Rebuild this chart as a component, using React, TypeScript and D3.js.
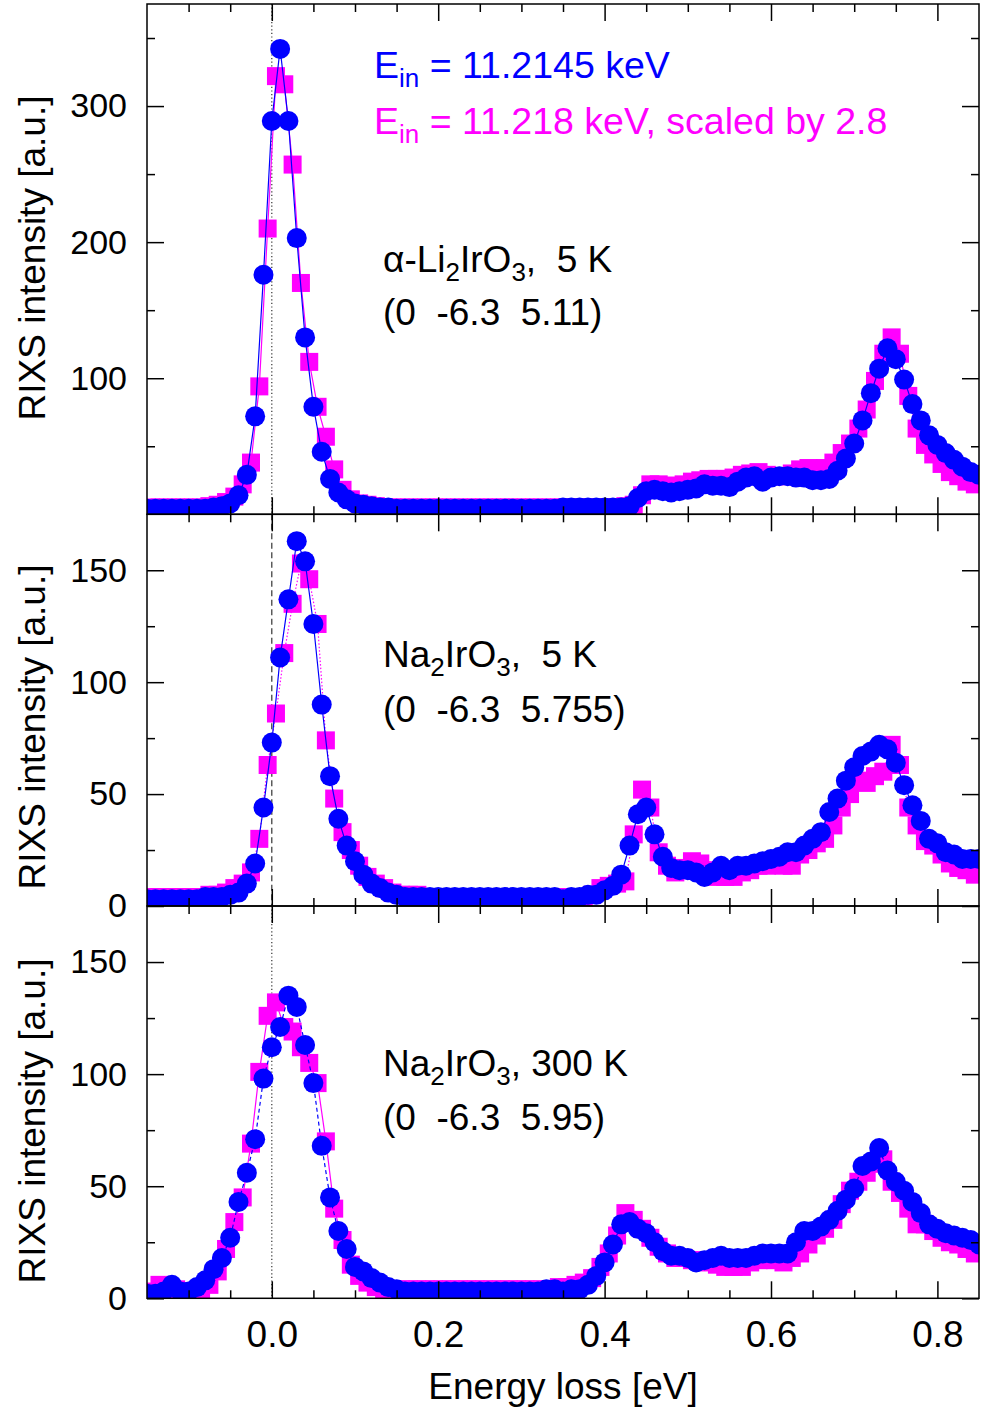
import React, { useRef, useEffect } from "react";
import * as d3 from "d3";

// energy loss grids (eV) for the two incident energies
const lossBlue = [
  -0.15, -0.14, -0.13, -0.12, -0.11, -0.10, -0.09, -0.08, -0.07, -0.06,
  -0.05, -0.04, -0.03, -0.02, -0.01, 0.00, 0.01, 0.02, 0.03, 0.04,
  0.05, 0.06, 0.07, 0.08, 0.09, 0.10, 0.11, 0.12, 0.13, 0.14,
  0.15, 0.16, 0.17, 0.18, 0.19, 0.20, 0.21, 0.22, 0.23, 0.24,
  0.25, 0.26, 0.27, 0.28, 0.29, 0.30, 0.31, 0.32, 0.33, 0.34,
  0.35, 0.36, 0.37, 0.38, 0.39, 0.40, 0.41, 0.42, 0.43, 0.44,
  0.45, 0.46, 0.47, 0.48, 0.49, 0.50, 0.51, 0.52, 0.53, 0.54,
  0.55, 0.56, 0.57, 0.58, 0.59, 0.60, 0.61, 0.62, 0.63, 0.64,
  0.65, 0.66, 0.67, 0.68, 0.69, 0.70, 0.71, 0.72, 0.73, 0.74,
  0.75, 0.76, 0.77, 0.78, 0.79, 0.80, 0.81, 0.82, 0.83, 0.84,
  0.85,
];
const lossPink = [
  -0.145, -0.135, -0.125, -0.115, -0.105, -0.095, -0.085, -0.075, -0.065, -0.055,
  -0.045, -0.035, -0.025, -0.015, -0.005, 0.005, 0.015, 0.025, 0.035, 0.045,
  0.055, 0.065, 0.075, 0.085, 0.095, 0.105, 0.115, 0.125, 0.135, 0.145,
  0.155, 0.165, 0.175, 0.185, 0.195, 0.205, 0.215, 0.225, 0.235, 0.245,
  0.255, 0.265, 0.275, 0.285, 0.295, 0.305, 0.315, 0.325, 0.335, 0.345,
  0.355, 0.365, 0.375, 0.385, 0.395, 0.405, 0.415, 0.425, 0.435, 0.445,
  0.455, 0.465, 0.475, 0.485, 0.495, 0.505, 0.515, 0.525, 0.535, 0.545,
  0.555, 0.565, 0.575, 0.585, 0.595, 0.605, 0.615, 0.625, 0.635, 0.645,
  0.655, 0.665, 0.675, 0.685, 0.695, 0.705, 0.715, 0.725, 0.735, 0.745,
  0.755, 0.765, 0.775, 0.785, 0.795, 0.805, 0.815, 0.825, 0.835, 0.845,
];

// alpha-Li2IrO3, 5 K
const liBlue = [
  4, 4, 4, 4, 4, 4, 4, 4, 5, 6,
  8, 14, 29, 72, 176, 289, 342, 289, 203, 130,
  79, 46, 26, 16, 11, 8, 7, 6, 5, 5,
  4, 4, 4, 4, 4, 4, 4, 4, 4, 4,
  4, 4, 4, 4, 4, 4, 4, 4, 4, 4,
  5, 5, 5, 5, 5, 5, 5, 5, 6, 12,
  17, 18, 17, 16, 17, 18, 19, 22, 21, 21,
  20, 24, 27, 28, 24, 27, 28, 28, 27, 27,
  25, 25, 26, 32, 41, 52, 69, 89, 107, 122,
  114, 99, 81, 69, 58, 51, 45, 40, 35, 31,
  29,
];
const liPink = [
  5, 5, 5, 5, 5, 5, 5, 6, 7, 9,
  13, 22, 38, 94, 210, 322, 316, 257, 170, 112,
  79, 57, 33, 18, 11, 8, 7, 6, 5, 5,
  5, 5, 5, 5, 5, 5, 5, 5, 5, 5,
  5, 5, 5, 5, 5, 5, 5, 5, 5, 5,
  5, 5, 5, 5, 5, 5, 5, 6, 7, 14,
  22, 22, 21, 21, 22, 24, 25, 26, 26, 26,
  27, 29, 30, 31, 29, 28, 28, 30, 33, 34,
  33, 34, 38, 45, 52, 63, 77, 98, 118, 130,
  118, 87, 63, 51, 44, 37, 31, 28, 24, 22,
];

// Na2IrO3, 5 K
const naBlue5 = [
  3, 3, 3, 3, 3, 3, 3, 4, 4, 4,
  5, 6, 10, 19, 44, 73, 111, 137, 163, 154,
  126, 90, 58, 39, 27, 20, 14, 10, 8, 6,
  5, 4, 4, 4, 4, 4, 4, 4, 4, 4,
  4, 4, 4, 4, 4, 4, 4, 4, 4, 4,
  3, 4, 4, 5, 5, 7, 9, 14, 27, 41,
  44, 32, 22, 17, 16, 16, 15, 13, 15, 18,
  16, 18, 18, 19, 20, 21, 22, 24, 24, 27,
  30, 33, 42, 48, 56, 62, 67, 69, 72, 70,
  64, 54, 45, 38, 30, 28, 24, 23, 21, 21,
  21,
];
const naPink5 = [
  4, 4, 4, 4, 4, 4, 4, 5, 5, 6,
  8, 10, 15, 30, 63, 86, 113, 135, 153, 146,
  126, 74, 48, 33, 25, 18, 13, 10, 8, 6,
  5, 5, 5, 4, 4, 4, 4, 4, 4, 4,
  4, 4, 4, 4, 4, 4, 4, 4, 4, 4,
  4, 4, 4, 5, 8, 9, 10, 11, 32, 52,
  44, 24, 18, 15, 17, 20, 19, 16, 13, 13,
  13, 15, 16, 18, 18, 19, 18, 18, 23, 25,
  28, 30, 36, 44, 50, 56, 55, 58, 60, 72,
  63, 44, 36, 29, 27, 23, 19, 17, 16, 14,
];

// Na2IrO3, 300 K
const naBlue300 = [
  2, 2, 3, 6, 3, 3, 5, 8, 13, 18,
  27, 43, 56, 71, 98, 112, 121, 135, 130, 113,
  96, 68, 45, 30, 22, 14, 12, 9, 7, 5,
  4, 3, 3, 3, 3, 3, 3, 3, 3, 3,
  3, 3, 3, 3, 3, 3, 3, 3, 4, 4,
  3, 4, 4, 6, 10, 16, 24, 33, 34, 31,
  29, 25, 21, 19, 19, 18, 16, 17, 18, 19,
  18, 18, 18, 19, 20, 20, 20, 20, 25, 30,
  30, 32, 35, 39, 44, 49, 59, 61, 67, 57,
  52, 48, 43, 38, 33, 31, 29, 28, 27, 26,
  24,
];
const naPink300 = [
  3, 6, 5, 4, 3, 3, 3, 6, 12, 22,
  34, 45, 69, 101, 126, 132, 121, 119, 112, 105,
  96, 70, 40, 26, 15, 10, 7, 5, 4, 4,
  4, 4, 4, 4, 4, 4, 4, 4, 4, 4,
  4, 4, 4, 4, 4, 4, 4, 4, 4, 5,
  5, 6, 7, 9, 14, 20, 28, 38, 35, 31,
  27, 23, 20, 18, 18, 17, 17, 16, 15, 14,
  14, 14, 16, 17, 18, 17, 16, 18, 20, 24,
  28, 31, 35, 42, 48, 52, 56, 60, 62, 52,
  47, 40, 33, 33, 30, 27, 25, 24, 22, 20,
];

const xTicksMajor = [0.0, 0.2, 0.4, 0.6, 0.8];
const xTicksMinor = [-0.1, -0.05, 0.05, 0.1, 0.15, 0.25, 0.3, 0.35, 0.45, 0.5, 0.55, 0.65, 0.7, 0.75];
const yTicksLi = [100, 200, 300];
const yMinorLi = [50, 150, 250, 350];
const yTicksNa = [0, 50, 100, 150];
const yMinorNa = [25, 75, 125];

const FONT = "'Liberation Sans', Arial, Helvetica, sans-serif";
const BLUE = "#0000ff";
const PINK = "#ff00ff";
const LEFT = 147;
const RIGHT = 979;

const panels = [
  {
    blue: liBlue, pink: liPink, yMax: 375, y0: 4, y1: 514.3,
    major: yTicksLi, minor: yMinorLi, zeroDash: "1.2,2.4",
    blueDash: null, pinkDash: null, titleY: 258,
    name: [["α-Li"], ["2", true], ["IrO"], ["3", true], [",  5 K"]],
    nameY: 272, hkl: "(0  -6.3  5.11)", hklY: 325,
  },
  {
    blue: naBlue5, pink: naPink5, yMax: 175, y0: 514.3, y1: 906,
    major: yTicksNa, minor: yMinorNa, zeroDash: "6,3.5",
    blueDash: null, pinkDash: "1.5,2", titleY: 727,
    name: [["Na"], ["2", true], ["IrO"], ["3", true], [",  5 K"]],
    nameY: 667, hkl: "(0  -6.3  5.755)", hklY: 722,
  },
  {
    blue: naBlue300, pink: naPink300, yMax: 175, y0: 906, y1: 1298.3,
    major: yTicksNa, minor: yMinorNa, zeroDash: "1.2,2.4",
    blueDash: "4,3", pinkDash: null, titleY: 1121,
    name: [["Na"], ["2", true], ["IrO"], ["3", true], [", 300 K"]],
    nameY: 1076, hkl: "(0  -6.3  5.95)", hklY: 1130,
  },
];

function richText(g, x, y, parts, color, size, subSize, shift) {
  const t = g.append("text")
    .attr("x", x).attr("y", y)
    .attr("fill", color)
    .attr("font-size", size)
    .attr("font-family", FONT)
    .style("white-space", "pre");
  let low = false;
  parts.forEach(([s, sub]) => {
    const dy = sub ? (low ? 0 : shift) : (low ? -shift : 0);
    t.append("tspan")
      .attr("dy", dy)
      .attr("font-size", sub ? subSize : size)
      .text(s);
    low = !!sub;
  });
  return t;
}

function App() {
  const ref = useRef(null);

  useEffect(() => {
    const svg = d3.select(ref.current);
    svg.selectAll("*").remove();

    const x = d3.scaleLinear().domain([-0.15, 0.85]).range([LEFT, RIGHT]);
    const defs = svg.append("defs");

    panels.forEach((p, i) => {
      const y = d3.scaleLinear().domain([0, p.yMax]).range([p.y1, p.y0]);
      const clipId = `panel-clip-${i}`;
      defs.append("clipPath").attr("id", clipId)
        .append("rect")
        .attr("x", LEFT).attr("y", p.y0)
        .attr("width", RIGHT - LEFT).attr("height", p.y1 - p.y0);

      const plot = svg.append("g").attr("clip-path", `url(#${clipId})`);

      // zero-loss marker
      plot.append("line")
        .attr("x1", x(0)).attr("x2", x(0))
        .attr("y1", p.y0).attr("y2", p.y1)
        .attr("stroke", "#333")
        .attr("stroke-width", 1.2)
        .attr("stroke-dasharray", p.zeroDash);

      const line = d3.line().x(d => x(d[0])).y(d => y(d[1]));
      const pinkPts = d3.zip(lossPink, p.pink);
      const bluePts = d3.zip(lossBlue, p.blue);

      plot.append("path")
        .datum(pinkPts)
        .attr("fill", "none")
        .attr("stroke", PINK)
        .attr("stroke-width", 1.2)
        .attr("stroke-dasharray", p.pinkDash)
        .attr("d", line);

      const side = 18;
      plot.append("g")
        .selectAll("rect")
        .data(pinkPts)
        .join("rect")
        .attr("x", d => x(d[0]) - side / 2)
        .attr("y", d => y(d[1]) - side / 2)
        .attr("width", side)
        .attr("height", side)
        .attr("fill", PINK);

      plot.append("path")
        .datum(bluePts)
        .attr("fill", "none")
        .attr("stroke", BLUE)
        .attr("stroke-width", 1.2)
        .attr("stroke-dasharray", p.blueDash)
        .attr("d", line);

      plot.append("g")
        .selectAll("circle")
        .data(bluePts)
        .join("circle")
        .attr("cx", d => x(d[0]))
        .attr("cy", d => y(d[1]))
        .attr("r", 10)
        .attr("fill", BLUE);

      // ticks on all four sides, pointing inward
      const tidy = (g, size) => {
        g.select(".domain").remove();
        g.attr("font-size", size).attr("font-family", FONT);
        g.selectAll("line").attr("stroke", "#000").attr("stroke-width", 1.5);
        g.selectAll("text").attr("fill", "#000");
      };
      const axes = svg.append("g");

      axes.append("g").attr("transform", `translate(${LEFT},0)`)
        .call(d3.axisLeft(y).tickValues(p.major).tickSize(-17).tickPadding(20))
        .call(g => tidy(g, 34));
      axes.append("g").attr("transform", `translate(${LEFT},0)`)
        .call(d3.axisLeft(y).tickValues(p.minor).tickSize(-8).tickFormat(() => ""))
        .call(g => tidy(g, 34));
      axes.append("g").attr("transform", `translate(${RIGHT},0)`)
        .call(d3.axisRight(y).tickValues(p.major).tickSize(-17).tickFormat(() => ""))
        .call(g => tidy(g, 34));
      axes.append("g").attr("transform", `translate(${RIGHT},0)`)
        .call(d3.axisRight(y).tickValues(p.minor).tickSize(-8).tickFormat(() => ""))
        .call(g => tidy(g, 34));

      const last = i === panels.length - 1;
      axes.append("g").attr("transform", `translate(0,${p.y1})`)
        .call(d3.axisBottom(x).tickValues(xTicksMajor).tickSize(-17).tickPadding(22)
          .tickFormat(last ? d3.format(".1f") : () => ""))
        .call(g => tidy(g, 37));
      axes.append("g").attr("transform", `translate(0,${p.y1})`)
        .call(d3.axisBottom(x).tickValues(xTicksMinor).tickSize(-8).tickFormat(() => ""))
        .call(g => tidy(g, 37));
      axes.append("g").attr("transform", `translate(0,${p.y0})`)
        .call(d3.axisTop(x).tickValues(xTicksMajor).tickSize(-17).tickFormat(() => ""))
        .call(g => tidy(g, 37));
      axes.append("g").attr("transform", `translate(0,${p.y0})`)
        .call(d3.axisTop(x).tickValues(xTicksMinor).tickSize(-8).tickFormat(() => ""))
        .call(g => tidy(g, 37));

      axes.append("rect")
        .attr("x", LEFT).attr("y", p.y0)
        .attr("width", RIGHT - LEFT).attr("height", p.y1 - p.y0)
        .attr("fill", "none")
        .attr("stroke", "#000")
        .attr("stroke-width", 1.5);

      // y title
      svg.append("text")
        .attr("transform", `translate(45,${p.titleY}) rotate(-90)`)
        .attr("text-anchor", "middle")
        .attr("font-size", 37)
        .attr("font-family", FONT)
        .text("RIXS intensity [a.u.]");

      // sample and Q labels
      richText(svg, 383, p.nameY, p.name, "#000", 37, 26, 9);
      svg.append("text")
        .attr("x", 383).attr("y", p.hklY)
        .attr("font-size", 37)
        .attr("font-family", FONT)
        .style("white-space", "pre")
        .text(p.hkl);
    });

    // incident energies
    richText(svg, 374, 78, [["E"], ["in", true], [" = 11.2145 keV"]], BLUE, 37.5, 26, 9);
    richText(svg, 374, 134, [["E"], ["in", true], [" = 11.218 keV, scaled by 2.8"]], PINK, 37.5, 26, 9);

    svg.append("text")
      .attr("x", (LEFT + RIGHT) / 2).attr("y", 1399)
      .attr("text-anchor", "middle")
      .attr("font-size", 37)
      .attr("font-family", FONT)
      .text("Energy loss [eV]");
  }, []);

  return (
    <svg
      ref={ref}
      width={984}
      height={1411}
      style={{ position: "absolute", left: 0, top: 0, background: "#fff" }}
    />
  );
}

export default App;
